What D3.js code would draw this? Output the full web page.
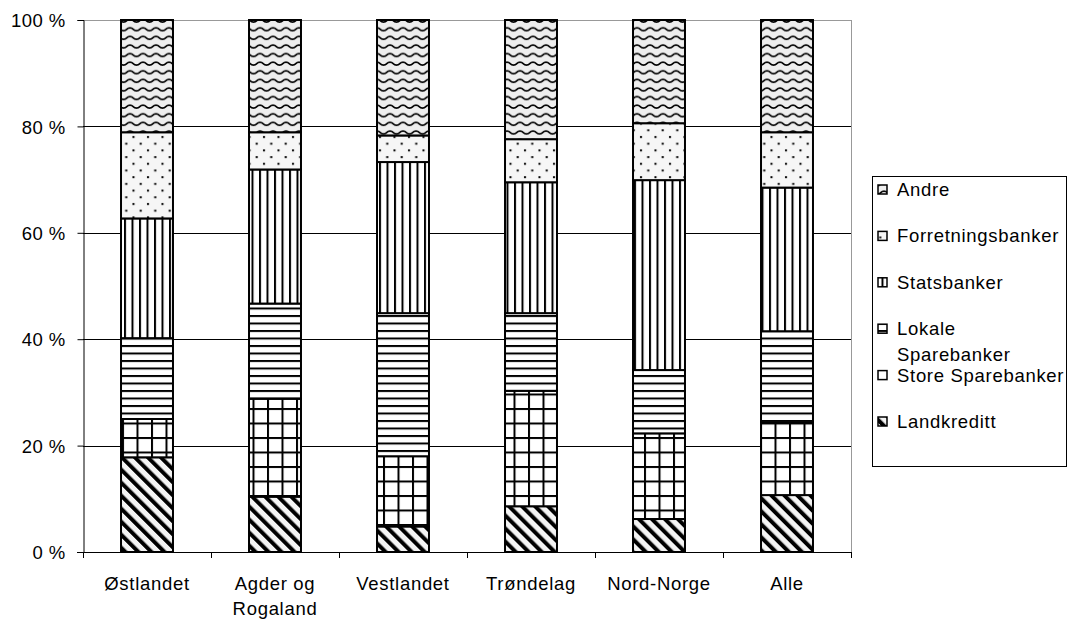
<!DOCTYPE html>
<html>
<head>
<meta charset="utf-8">
<script src="https://cdn.jsdelivr.net/npm/d3@7"></script>
<style>
html,body{margin:0;padding:0;background:#fff;}
text{font-family:"Liberation Sans",Arial,sans-serif;fill:#000;}
</style>
</head>
<body>
<svg id="chart" width="1068" height="620"></svg>
<script>
const categories = ["Østlandet", "Agder og Rogaland", "Vestlandet", "Trøndelag", "Nord-Norge", "Alle"];
const seriesNames = ["Landkreditt", "Store Sparebanker", "Lokale Sparebanker", "Statsbanker", "Forretningsbanker", "Andre"];
const landkreditt = [17.8, 10.4, 4.8, 8.6, 6.2, 10.7];
const storeSparebanker = [7.2, 18.4, 13.2, 21.7, 16.1, 13.7];
const lokaleSparebanker = [15.2, 17.9, 26.9, 14.6, 11.9, 17.1];
const statsbanker = [22.5, 25.2, 28.4, 24.6, 35.7, 27.0];
const forretningsbanker = [16.2, 7.0, 5.0, 8.1, 10.7, 10.4];
const andre = [21.1, 21.1, 21.7, 22.4, 19.4, 21.1];
const yTicks = [0, 0.2, 0.4, 0.6, 0.8, 1.0];
const yTickLabels = ["0 %", "20 %", "40 %", "60 %", "80 %", "100 %"];

const seriesValues = [landkreditt, storeSparebanker, lokaleSparebanker, statsbanker, forretningsbanker, andre];
const table = categories.map((c, i) => {
  const row = {category: c};
  seriesNames.forEach((s, j) => row[s] = seriesValues[j][i]);
  return row;
});

const svg = d3.select("#chart");
const x = d3.scaleBand().domain(categories).range([83, 851]).paddingInner(0.594).paddingOuter(0.297);
const y = d3.scaleLinear().domain([0, 1]).range([552, 20]);

// patterns
const defs = svg.append("defs");
const patIds = ["pLand", "pStore", "pLok", "pStats", "pForr", "pAndre"];
let p = defs.append("pattern").attr("id", "pLand").attr("patternUnits", "userSpaceOnUse")
  .attr("width", 9.2).attr("height", 9.2).attr("patternTransform", "rotate(-45)");
p.append("rect").attr("width", 9.2).attr("height", 9.2).attr("fill", "#f4f4f4");
p.append("rect").attr("x", 0).attr("width", 4).attr("height", 9.2).attr("fill", "#000");

p = defs.append("pattern").attr("id", "pStore").attr("patternUnits", "userSpaceOnUse")
  .attr("width", 14.5).attr("height", 14.5).attr("x", 6).attr("y", 2);
p.append("rect").attr("width", 14.5).attr("height", 14.5).attr("fill", "#fff");
p.append("rect").attr("x", 0).attr("y", 0).attr("width", 2).attr("height", 14.5).attr("fill", "#000");
p.append("rect").attr("x", 0).attr("y", 0).attr("width", 14.5).attr("height", 2).attr("fill", "#000");

p = defs.append("pattern").attr("id", "pLok").attr("patternUnits", "userSpaceOnUse")
  .attr("width", 10).attr("height", 7.5);
p.append("rect").attr("width", 10).attr("height", 7.5).attr("fill", "#fff");
p.append("rect").attr("y", 0).attr("width", 10).attr("height", 2).attr("fill", "#000");

p = defs.append("pattern").attr("id", "pStats").attr("patternUnits", "userSpaceOnUse")
  .attr("width", 7.5).attr("height", 10).attr("x", 4);
p.append("rect").attr("width", 7.5).attr("height", 10).attr("fill", "#fff");
p.append("rect").attr("x", 0).attr("width", 2).attr("height", 10).attr("fill", "#000");

p = defs.append("pattern").attr("id", "pForr").attr("patternUnits", "userSpaceOnUse")
  .attr("width", 14.5).attr("height", 13.4);
p.append("rect").attr("width", 14.5).attr("height", 13.4).attr("fill", "#f6f6f6");
p.append("rect").attr("x", 2).attr("y", 2).attr("width", 2).attr("height", 2).attr("fill", "#000");
p.append("rect").attr("x", 9.25).attr("y", 8.7).attr("width", 2).attr("height", 2).attr("fill", "#000");

p = defs.append("pattern").attr("id", "pAndre").attr("patternUnits", "userSpaceOnUse")
  .attr("width", 13).attr("height", 8.6);
p.append("rect").attr("width", 13).attr("height", 8.6).attr("fill", "#eeeeee");
p.append("path").attr("d", "M-3.25,3.5 C-1.6,1.6 1.6,1.6 3.25,3.5 C4.9,5.4 8.1,5.4 9.75,3.5 C11.4,1.6 14.6,1.6 16.25,3.5")
  .attr("fill", "none").attr("stroke", "#000").attr("stroke-width", 1.6);

// plot border (gray top & right)
svg.append("line").attr("x1", 83).attr("x2", 851).attr("y1", 20.5).attr("y2", 20.5).attr("stroke", "#999").attr("stroke-width", 1);
svg.append("line").attr("x1", 851.5).attr("x2", 851.5).attr("y1", y(1)).attr("y2", y(0)).attr("stroke", "#999").attr("stroke-width", 1);

// gridlines
svg.append("g").selectAll("line").data(yTicks.filter(t => t > 0 && t < 1)).join("line")
  .attr("x1", 83).attr("x2", 851)
  .attr("y1", d => Math.round(y(d)) + 0.5).attr("y2", d => Math.round(y(d)) + 0.5)
  .attr("stroke", "#000").attr("stroke-width", 1);

// bars
const stack = d3.stack().keys(seriesNames).offset(d3.stackOffsetExpand);
const stacked = stack(table);
const gBars = svg.append("g");
stacked.forEach((layer, li) => {
  gBars.append("g").selectAll("rect").data(layer).join("rect")
    .attr("x", d => x(d.data.category))
    .attr("width", x.bandwidth())
    .attr("y", d => y(d[1]))
    .attr("height", d => y(d[0]) - y(d[1]))
    .attr("fill", `url(#${patIds[li]})`)
    .attr("stroke", "#000").attr("stroke-width", 2);
});

// y axis
const yAxis = d3.axisLeft(y).tickValues(yTicks).tickSize(6).tickPadding(12)
  .tickFormat((d, i) => yTickLabels[i]);
const gy = svg.append("g").attr("transform", "translate(83.5,0)").call(yAxis);
gy.select(".domain").attr("stroke", "#000");
gy.selectAll(".tick line").attr("stroke", "#000");
gy.selectAll(".tick text").attr("font-size", "18.5px").attr("letter-spacing", "0.4px")
  .attr("font-family", "'Liberation Sans', Arial, sans-serif").attr("fill", "#000").attr("dy", "0.36em");

// x axis baseline and ticks at band boundaries
svg.append("line").attr("x1", 77).attr("x2", 851).attr("y1", 552.5).attr("y2", 552.5).attr("stroke", "#000");
const boundaries = categories.map(c => x(c) - x.step() * x.paddingInner() / 2).concat([851]);
svg.append("g").selectAll("line").data(boundaries).join("line")
  .attr("x1", d => Math.round(d) + 0.5).attr("x2", d => Math.round(d) + 0.5)
  .attr("y1", 552).attr("y2", 558).attr("stroke", "#000");

// category labels
const labelLines = c => c === "Agder og Rogaland" ? ["Agder og", "Rogaland"] : [c];
const gx = svg.append("g");
categories.forEach(c => {
  const t = gx.append("text").attr("text-anchor", "middle")
    .attr("font-size", "18.5px").attr("letter-spacing", "0.7px");
  labelLines(c).forEach((ln, k) => {
    t.append("tspan").attr("x", x(c) + x.bandwidth() / 2).attr("y", 590 + k * 25).text(ln);
  });
});

// legend
svg.append("rect").attr("x", 872.5).attr("y", 176.5).attr("width", 194).attr("height", 290)
  .attr("fill", "#fff").attr("stroke", "#000").attr("stroke-width", 1);
const legendOrder = seriesNames.slice().reverse();
const ly = d3.scaleLinear().domain([0, legendOrder.length - 1]).range([196, 428]);
legendOrder.forEach((s, i) => {
  const li = seriesNames.indexOf(s);
  const by = ly(i);
  svg.append("rect").attr("x", 878).attr("y", by - 11).attr("width", 9).attr("height", 9)
    .attr("fill", `url(#${patIds[li]})`).attr("stroke", "#000").attr("stroke-width", 1.5);
  const t = svg.append("text").attr("font-size", "18.5px").attr("letter-spacing", "0.7px");
  const lines = s === "Lokale Sparebanker" ? ["Lokale", "Sparebanker"] : [s];
  lines.forEach((ln, k) => t.append("tspan").attr("x", 897).attr("y", by + k * 26).text(ln));
});
</script>
</body>
</html>
